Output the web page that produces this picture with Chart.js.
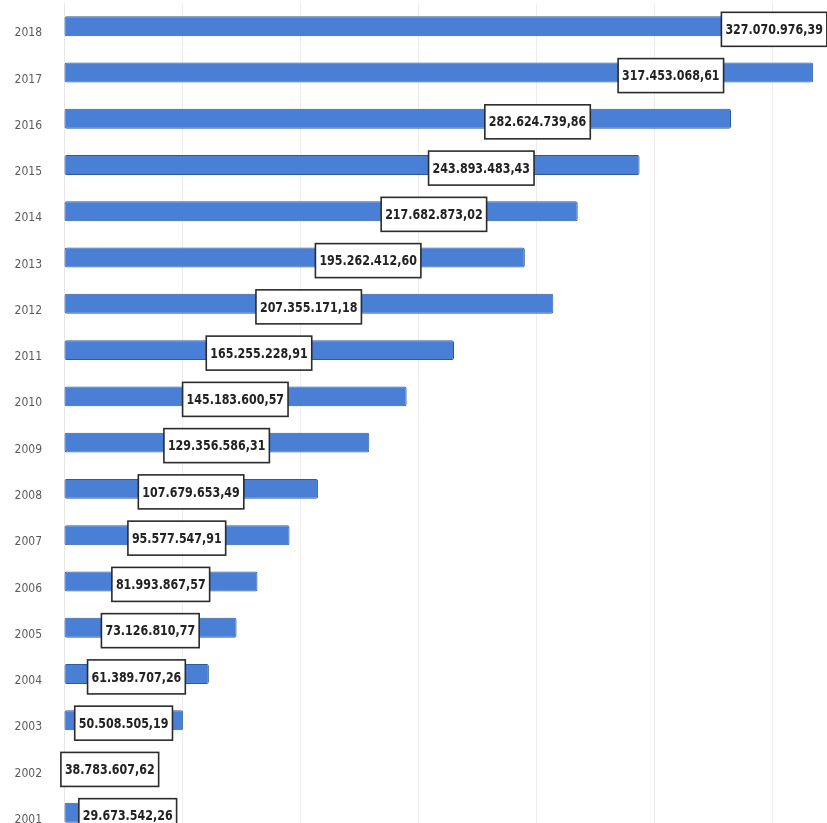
<!DOCTYPE html>
<html>
<head>
<meta charset="utf-8">
<script src="https://cdn.jsdelivr.net/npm/chart.js@4.4.1/dist/chart.umd.min.js"></script>
<style>
  html, body { margin: 0; padding: 0; background: #fff; overflow: hidden; }
  #wrap { position: absolute; left: 0; top: -4px; width: 890px; height: 847px; }
</style>
</head>
<body>
<div id="wrap"><canvas id="myChart"></canvas></div>
<script>
// years, top to bottom as in the picture
var years = ['2018', '2017', '2016', '2015', '2014', '2013', '2012', '2011', '2010',
             '2009', '2008', '2007', '2006', '2005', '2004', '2003', '2002', '2001'];
var amounts = [327070976.39, 317453068.61, 282624739.86, 243893483.43, 217682873.02,
               195262412.60, 207355171.18, 165255228.91, 145183600.57, 129356586.31,
               107679653.49, 95577547.91, 81993867.57, 73126810.77, 61389707.26,
               50508505.19, 38783607.62, 29673542.26];
// where each label box sits along its bar (fraction of the bar length)
var labelAt = [0.92, 0.81, 0.71, 0.725, 0.72, 0.66, 0.5, 0.5, 0.5,
               0.5, 0.5, 0.5, 0.5, 0.5, 0.5, 0.5, 0.5, 0.91];

function fmt(v) {
  var parts = v.toFixed(2).split('.');
  return parts[0].replace(/\B(?=(\d{3})+(?!\d))/g, '.') + ',' + parts[1];
}

var boxLabels = {
  id: 'boxLabels',
  afterDatasetsDraw: function(chart) {
    var ctx = chart.ctx;
    var xs = chart.scales.x;
    var meta = chart.getDatasetMeta(0);
    var squeeze = 0.88;
    ctx.save();
    ctx.font = 'bold 14px "DejaVu Sans Condensed", "Liberation Sans Narrow", sans-serif';
    ctx.textAlign = 'center';
    ctx.textBaseline = 'middle';
    meta.data.forEach(function(bar, i) {
      var text = fmt(amounts[i]);
      var cx = xs.getPixelForValue(amounts[i] * labelAt[i]);
      var cy = bar.y + 3;
      var w = ctx.measureText(text).width * squeeze + 8;
      var h = 34;
      ctx.fillStyle = '#ffffff';
      ctx.fillRect(cx - w / 2, cy - h / 2, w, h);
      ctx.lineWidth = 1.6;
      ctx.strokeStyle = '#2b2b2b';
      ctx.strokeRect(cx - w / 2, cy - h / 2, w, h);
      ctx.save();
      ctx.translate(cx, cy + 1);
      ctx.scale(squeeze, 1);
      ctx.fillStyle = '#222222';
      ctx.fillText(text, 0, 0);
      ctx.restore();
    });
    ctx.restore();
  }
};

var ctx = document.getElementById('myChart').getContext('2d');
var myChart = new Chart(ctx, {
  type: 'bar',
  data: {
    labels: years,
    datasets: [{
      data: amounts,
      backgroundColor: '#4a7fd6',
      borderColor: '#2d5a9e',
      borderWidth: 1,
      borderRadius: 2,
      borderSkipped: false,
      barPercentage: 0.9,
      categoryPercentage: 0.48
    }]
  },
  options: {
    indexAxis: 'y',
    responsive: true,
    maintainAspectRatio: false,
    animation: false,
    layout: { padding: 0 },
    plugins: {
      legend: { display: false },
      tooltip: { enabled: false }
    },
    scales: {
      x: {
        min: 0,
        max: 350000000,
        ticks: { display: false, stepSize: 50000000 },
        grid: { color: '#ededed', lineWidth: 1, drawTicks: false },
        border: { display: false }
      },
      y: {
        afterFit: function(scale) { scale.width = 64; },
        ticks: {
          color: '#5a5a5a',
          padding: 0,
          labelOffset: 7,
          font: { family: '"DejaVu Sans Condensed", "Liberation Sans Narrow", sans-serif', size: 12 }
        },
        grid: { display: false, drawTicks: true, tickLength: 22 },
        border: { color: '#e6e6e6' }
      }
    }
  },
  plugins: [boxLabels]
});
</script>
</body>
</html>
